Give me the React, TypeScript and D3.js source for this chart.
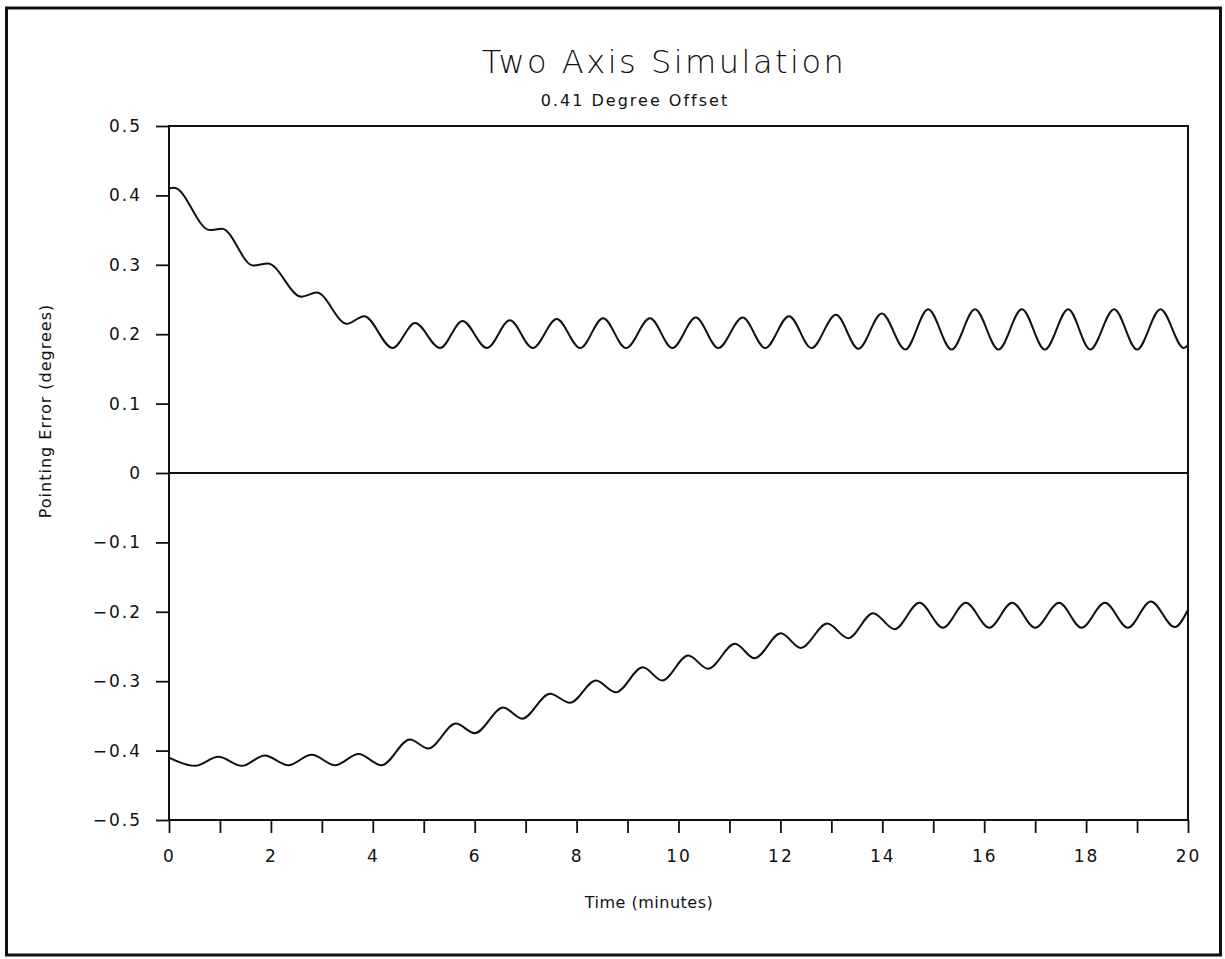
import React, { useEffect, useRef } from "react";
import * as d3 from "d3";

// values (extrema of each trace, minutes / degrees)
const upperTimes = [0, 0.1, 0.8, 1.04, 1.65, 1.94, 2.6, 2.9, 3.49, 3.83, 4.39, 4.83, 5.32, 5.76, 6.24, 6.69, 7.14, 7.61, 8.07, 8.52, 8.97, 9.44, 9.88, 10.34, 10.78, 11.26, 11.7, 12.17, 12.61, 13.09, 13.53, 13.99, 14.45, 14.9, 15.36, 15.82, 16.28, 16.74, 17.19, 17.65, 18.08, 18.55, 19.0, 19.46, 19.92, 20];
const upperValues = [0.41, 0.411, 0.35, 0.352, 0.299, 0.302, 0.254, 0.26, 0.215, 0.226, 0.18, 0.216, 0.18, 0.219, 0.18, 0.22, 0.18, 0.222, 0.18, 0.223, 0.18, 0.223, 0.18, 0.224, 0.18, 0.224, 0.18, 0.226, 0.18, 0.228, 0.179, 0.23, 0.178, 0.236, 0.178, 0.236, 0.178, 0.236, 0.178, 0.236, 0.178, 0.236, 0.178, 0.236, 0.18, 0.184];

const lowerTimes = [0, 0.51, 0.97, 1.43, 1.88, 2.34, 2.8, 3.26, 3.72, 4.17, 4.73, 5.09, 5.63, 6.0, 6.56, 6.93, 7.48, 7.87, 8.38, 8.77, 9.3, 9.68, 10.19, 10.58, 11.11, 11.49, 12.01, 12.4, 12.92, 13.33, 13.82, 14.24, 14.73, 15.19, 15.64, 16.1, 16.55, 17.0, 17.47, 17.91, 18.37, 18.82, 19.27, 19.74, 20];
const lowerValues = [-0.41, -0.422, -0.409, -0.422, -0.407, -0.421, -0.406, -0.421, -0.405, -0.421, -0.384, -0.397, -0.361, -0.375, -0.338, -0.354, -0.318, -0.331, -0.299, -0.316, -0.28, -0.299, -0.263, -0.282, -0.246, -0.267, -0.231, -0.252, -0.217, -0.238, -0.202, -0.225, -0.187, -0.223, -0.187, -0.223, -0.187, -0.223, -0.187, -0.223, -0.187, -0.223, -0.185, -0.222, -0.197];

const xTicks = d3.range(0, 21, 1);
const yTicks = [-0.5, -0.4, -0.3, -0.2, -0.1, 0, 0.1, 0.2, 0.3, 0.4, 0.5];

const W = 1225;
const H = 959;
const FONT = "'DejaVu Sans', sans-serif";

export default function App() {
  const ref = useRef<SVGSVGElement>(null);

  useEffect(() => {
    const svg = d3.select(ref.current);
    svg.selectAll("*").remove();

    const left = 169, right = 1188, top = 126, bottom = 820;
    const x = d3.scaleLinear().domain([0, 20]).range([left, right]);
    const y = d3.scaleLinear().domain([-0.5, 0.5]).range([bottom, top]);

    // outer border
    svg.append("rect")
      .attr("x", 6.5).attr("y", 8).attr("width", 1214).attr("height", 947)
      .attr("fill", "none").attr("stroke", "#111").attr("stroke-width", 3);

    // plot frame
    svg.append("rect")
      .attr("x", left).attr("y", top).attr("width", right - left).attr("height", bottom - top)
      .attr("fill", "none").attr("stroke", "#111").attr("stroke-width", 2);

    // zero line
    svg.append("line")
      .attr("x1", left).attr("x2", right).attr("y1", y(0)).attr("y2", y(0))
      .attr("stroke", "#111").attr("stroke-width", 2);

    const xAxis = svg.append("g")
      .attr("transform", `translate(0,${bottom})`)
      .call(d3.axisBottom(x).tickValues(xTicks).tickSize(13).tickPadding(17)
        .tickFormat((d: any) => (d % 2 === 0 ? String(d) : "")));
    xAxis.select(".domain").remove();

    const yAxis = svg.append("g")
      .attr("transform", `translate(${left},0)`)
      .call(d3.axisLeft(y).tickValues(yTicks).tickSize(13).tickPadding(14)
        .tickFormat((d: any) => (d === 0 ? "0" : d3.format(".1f")(d))));
    yAxis.select(".domain").remove();

    svg.selectAll(".tick line").attr("stroke", "#111").attr("stroke-width", 1.8);
    svg.selectAll(".tick text")
      .attr("fill", "#111")
      .style("font-family", FONT)
      .style("font-size", "17px")
      .style("letter-spacing", "2px");

    const line = d3.line<[number, number]>()
      .x(d => x(d[0]))
      .y(d => y(d[1]))
      .curve(d3.curveMonotoneX);

    const upper: [number, number][] = upperTimes.map((t, i) => [t, upperValues[i]]);
    const lower: [number, number][] = lowerTimes.map((t, i) => [t, lowerValues[i]]);

    svg.selectAll("path.trace")
      .data([upper, lower]).enter()
      .append("path")
      .attr("class", "trace")
      .attr("d", d => line(d))
      .attr("fill", "none")
      .attr("stroke", "#111")
      .attr("stroke-width", 2);

    // titles
    svg.append("text")
      .attr("x", 664).attr("y", 73)
      .attr("text-anchor", "middle")
      .style("font-family", FONT).style("font-size", "32px")
      .style("font-weight", 200).style("letter-spacing", "2.5px")
      .attr("fill", "#111")
      .text("Two Axis Simulation");

    svg.append("text")
      .attr("x", 635).attr("y", 106)
      .attr("text-anchor", "middle")
      .style("font-family", FONT).style("font-size", "16px")
      .style("letter-spacing", "2px")
      .attr("fill", "#111")
      .text("0.41 Degree Offset");

    svg.append("text")
      .attr("x", 649).attr("y", 908)
      .attr("text-anchor", "middle")
      .style("font-family", FONT).style("font-size", "16px")
      .style("letter-spacing", "0.5px")
      .attr("fill", "#111")
      .text("Time (minutes)");

    svg.append("text")
      .attr("transform", "translate(51,411) rotate(-90)")
      .attr("text-anchor", "middle")
      .style("font-family", FONT).style("font-size", "16px")
      .style("letter-spacing", "1px")
      .attr("fill", "#111")
      .text("Pointing Error (degrees)");
  }, []);

  return (
    <svg ref={ref} width={W} height={H}
      style={{ position: "absolute", left: 0, top: 0, background: "#fff" }} />
  );
}
